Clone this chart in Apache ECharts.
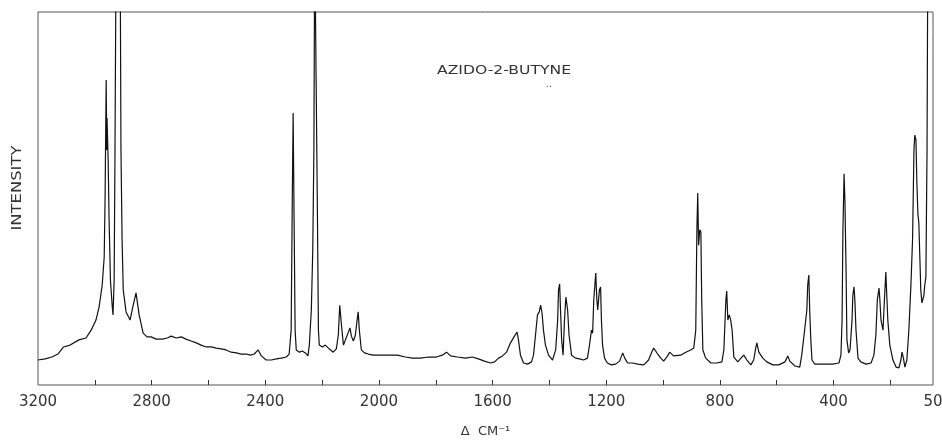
<!DOCTYPE html>
<html>
<head>
<meta charset="utf-8">
<script src="https://cdn.jsdelivr.net/npm/echarts@6/dist/echarts.min.js"></script>
<style>html,body{margin:0;padding:0;background:#fff;}#chart{width:942px;height:440px;}</style>
</head>
<body>
<div id="chart"></div>
<script>
// Raman shift (cm^-1)
const wavenumbers = [
  3200,3175,3151,3130,3110,3087,3056,3031,3013,2996,
  2985,2974,2967,2964,2960,2958,2957,2953,2950,2945,
  2939,2936,2932,2929,2925,2918,2911,2908,2904,2900,
  2890,2876,2865,2855,2844,2830,2816,2802,2784,2763,
  2745,2731,2714,2696,2679,2661,2643,2626,2608,2590,
  2573,2555,2538,2520,2502,2485,2467,2453,2439,2425,
  2414,2397,2379,2361,2344,2326,2316,2309,2305,2302,
  2298,2295,2291,2280,2270,2259,2250,2245,2238,2233,
  2229,2226,2220,2217,2213,2210,2199,2189,2175,2161,
  2150,2143,2138,2132,2125,2118,2109,2102,2097,2090,
  2083,2076,2073,2069,2062,2051,2037,2020,1995,1967,
  1935,1907,1882,1854,1826,1798,1777,1762,1748,1724,
  1695,1671,1650,1629,1607,1593,1579,1565,1551,1537,
  1523,1514,1509,1502,1491,1477,1463,1456,1449,1442,
  1436,1431,1426,1421,1414,1403,1389,1378,1371,1368,
  1364,1361,1357,1352,1347,1342,1336,1331,1322,1308,
  1294,1280,1266,1259,1252,1248,1244,1240,1237,1233,
  1230,1224,1220,1217,1213,1206,1196,1182,1167,1153,
  1146,1142,1135,1125,1107,1089,1068,1051,1040,1033,
  1026,1019,1008,998,991,984,977,970,963,956,
  938,920,903,892,885,881,878,875,871,867,
  864,860,850,832,811,793,786,779,776,772,
  767,762,757,751,737,726,716,705,691,681,
  674,670,663,656,649,635,614,593,571,561,
  554,536,519,512,505,499,494,491,487,484,
  480,476,466,445,424,403,381,374,370,367,
  363,360,356,353,347,342,335,332,328,325,
  321,314,304,286,268,258,251,246,240,237,
  233,226,221,216,212,209,202,191,180,170,
  163,159,154,149,142,135,128,122,117,114,
  110,107,103,100,96,93,89,86,82,79,
  75,71,68,57,50
];
// Relative intensity (0-100 = full frame height; >100 runs off scale)
const intensity = [
  6.7,7.0,7.5,8.3,10.2,10.7,12.1,12.6,14.7,17.4,
  20.9,26.8,34.3,49.6,81.8,63,71.6,60,45,28,
  21.4,18.8,28,63,120,120,120,63,38.9,25.5,
  19.6,17.4,21.4,24.7,18.8,13.9,12.9,12.9,12.3,12.3,
  12.6,13.1,12.6,12.9,12.3,11.8,11.3,10.7,10.2,10.2,
  9.9,9.7,9.4,8.8,8.6,8.3,8.3,8.0,8.3,9.4,
  7.8,6.7,6.7,7.0,7.2,7.5,8.3,14.7,49.6,72.9,
  38.9,14.7,9.4,8.8,9.1,8.6,7.8,10.7,20.1,36,
  63,120,120,49.6,14.7,10.7,10.2,10.7,9.7,8.8,
  9.7,13.4,21.4,16.1,10.7,10.7,13.9,15.3,13.1,11.8,
  13.4,18,19.6,14.7,9.4,8.6,8.3,8.0,8.0,8.0,
  8.0,7.5,7.2,7.2,7.5,7.5,8.0,8.8,7.8,7.5,
  7.2,7.5,7.0,6.4,5.9,6.2,7.2,7.8,8.8,11.3,
  13.1,14.2,12.1,8.0,5.9,5.6,6.2,8.0,13.4,18.8,
  19.6,21.4,19.3,14.7,10.7,8.0,6.7,9.4,17.4,25.5,
  27.1,20.1,12.1,8.0,17.4,23.6,20.1,13.4,8.0,7.2,
  7.0,6.7,7.2,10.7,14.7,13.9,22.8,26.8,30.0,22.8,
  20.1,25.5,26.3,17.4,10.7,7.2,5.9,5.4,5.6,6.4,
  7.8,8.6,7.2,5.9,5.9,5.6,5.4,6.7,8.8,9.9,
  9.4,8.3,7.2,6.4,6.2,7.8,8.8,8.8,7.8,7.5,
  8.0,8.8,9.4,9.9,14.7,41.6,51.5,37.5,41.6,41,
  22.8,9.4,7.2,5.9,5.9,6.2,9.4,22.8,25.2,17.4,
  18.8,17.4,14.7,7.5,6.2,7.2,8.0,6.7,5.4,6.7,
  9.9,11.3,8.8,8.0,7.2,6.2,5.4,5.4,6.2,7.8,
  6.4,5.1,4.8,8.0,12.6,13.1,20.1,26.8,29.5,20.1,
  12.1,6.7,5.6,5.6,5.6,5.6,5.9,8.0,17.4,41.6,
  56.6,49.6,30.8,12.1,8.6,9.4,17.4,24.1,26.3,22.8,
  14.7,7.2,6.2,5.6,5.9,8.0,13.4,22.8,26,22.8,
  17.4,14.7,22.8,30.3,22.8,17.4,10.7,6.7,4.8,4.6,
  6.7,8.8,7.2,4.8,6.7,14.7,26.3,38.9,63,67,
  65.7,55,45.6,43.7,33.5,25.5,22,22.8,24.1,26.8,
  29,63,120,120,120
];
const tickValues = [3000,2800,2600,2400,2200,2000,1800,1600,1400,1200,1000,800,600,400,200];
const labelValues = [3200,2800,2400,2000,1600,1200,800,400,50];
const titleText = 'AZIDO-2-BUTYNE';
const xName = 'Δ  CM⁻¹';
const yName = 'INTENSITY';

const seriesData = wavenumbers.map((w, i) => [w, intensity[i]]);
const chart = echarts.init(document.getElementById('chart'), null, {renderer: 'canvas'});
const FONT = 'DejaVu Sans';
chart.setOption({
  animation: false,
  backgroundColor: '#ffffff',
  grid: {left: 38, right: 9, top: 12, bottom: 55, show: true, borderColor: '#555', borderWidth: 1,
    backgroundColor: 'transparent', containLabel: false, outerBoundsMode: 'none'},
  xAxis: {
    type: 'value', inverse: true, min: 50, max: 3200,
    axisLine: {show: false},
    splitLine: {show: false},
    axisTick: {show: true, inside: true, length: 5, customValues: tickValues, lineStyle: {color: '#333', width: 1}},
    axisLabel: {customValues: labelValues, formatter: v => String(v), fontSize: 15, color: '#333', margin: 10, fontFamily: FONT},
    name: xName, nameLocation: 'middle', nameGap: 40,
    nameTextStyle: {fontSize: 13, color: '#333', fontFamily: FONT}
  },
  yAxis: {
    type: 'value', min: 0, max: 100,
    axisLine: {show: false}, axisTick: {show: false}, axisLabel: {show: false}, splitLine: {show: false}
  },
  series: [{
    type: 'line', data: seriesData, showSymbol: false, symbol: 'none', clip: true,
    lineStyle: {color: '#111', width: 1.2}
  }],
  graphic: [
    {type: 'text', x: 17, y: 188, rotation: Math.PI / 2, scaleX: 1.17,
      style: {text: yName, fontSize: 14, fontFamily: FONT, fill: '#333', align: 'center', verticalAlign: 'middle'}},
    {type: 'text', x: 437, y: 71, scaleX: 1.3,
      style: {text: titleText, fontSize: 12, fontFamily: FONT, fill: '#333', align: 'left', verticalAlign: 'middle'}},
    {type: 'text', x: 549, y: 84,
      style: {text: '..', fontSize: 10, fontFamily: FONT, fill: '#555', align: 'center', verticalAlign: 'middle'}}
  ]
});
</script>
</body>
</html>
